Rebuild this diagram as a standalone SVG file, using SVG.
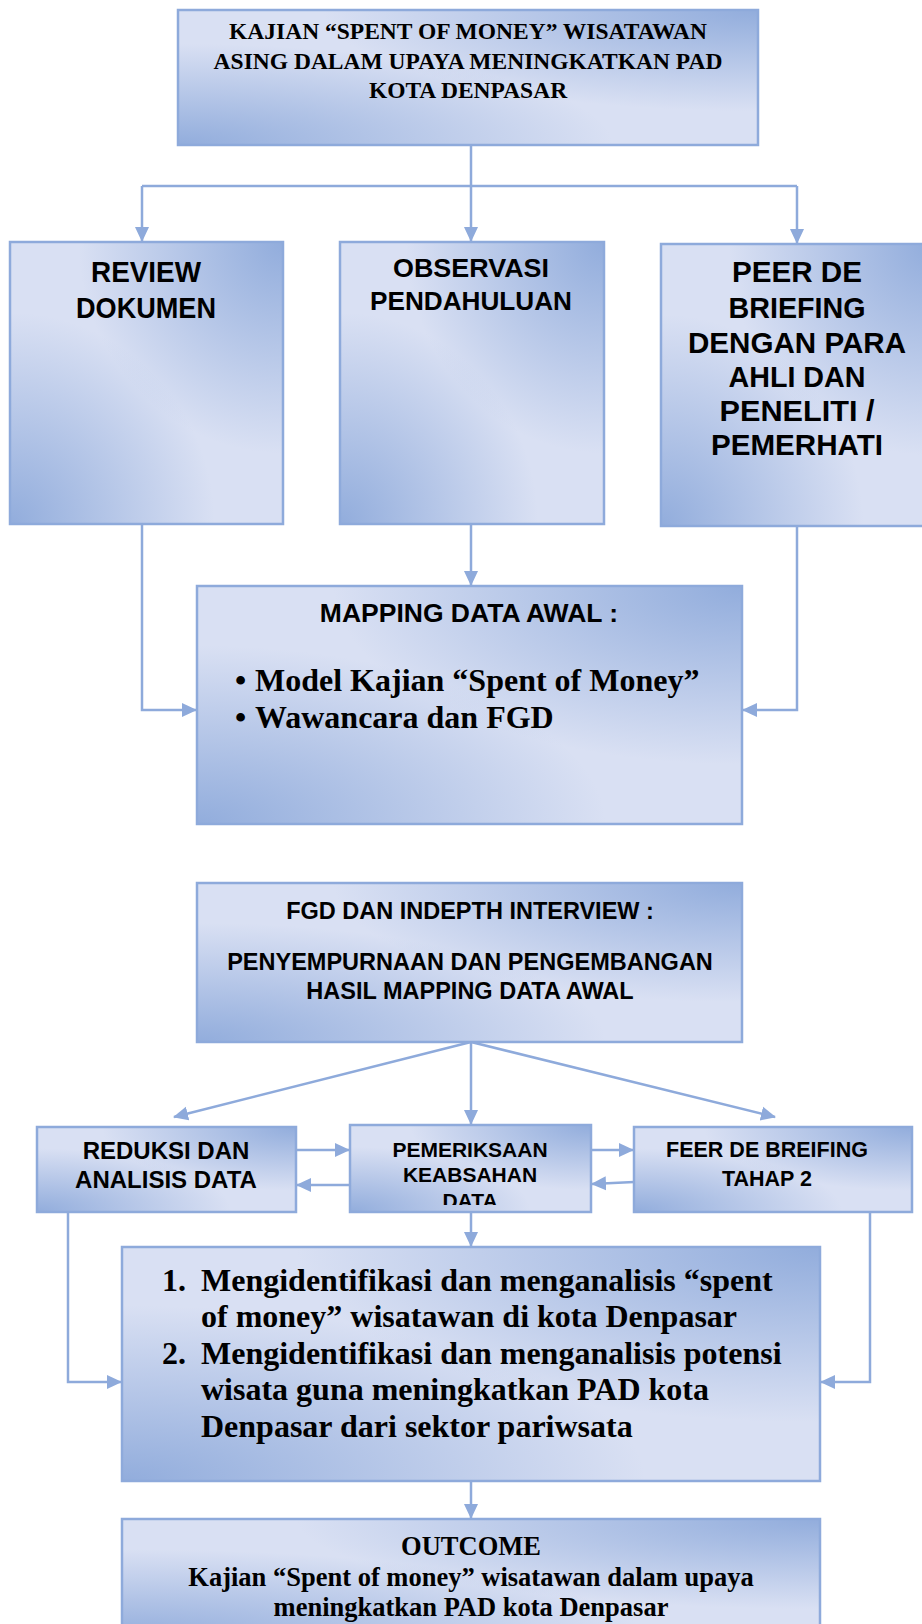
<svg xmlns="http://www.w3.org/2000/svg" width="922" height="1624" viewBox="0 0 922 1624">
<defs>
<radialGradient id="tr" cx="1" cy="0" r="0.75" fx="1" fy="0"><stop offset="0" stop-color="#8eaadb" stop-opacity="0.95"/><stop offset="1" stop-color="#8eaadb" stop-opacity="0"/></radialGradient>
<radialGradient id="bl" cx="0" cy="1" r="0.75" fx="0" fy="1"><stop offset="0" stop-color="#8eaadb" stop-opacity="0.95"/><stop offset="1" stop-color="#8eaadb" stop-opacity="0"/></radialGradient>
<marker id="ah" markerWidth="16" markerHeight="16" refX="14" refY="8" orient="auto" markerUnits="userSpaceOnUse"><path d="M0,1 L15,8 L0,15 z" fill="#8eaadb"/></marker>
<clipPath id="cpem"><rect x="350" y="1125" width="241" height="80"/></clipPath>
</defs>
<style>
.base{fill:#d9e0f3}
.t{fill:url(#tr)}
.b{fill:url(#bl)}
.bd{fill:none;stroke:#8eaadb;stroke-width:2.5}
.c{fill:none;stroke:#8eaadb;stroke-width:2.5}
.ca{fill:none;stroke:#8eaadb;stroke-width:2.5;marker-end:url(#ah)}
.tt{font-family:"Liberation Serif","Times New Roman",serif;font-weight:bold;fill:#000}
.ar{font-family:"Liberation Sans",Arial,sans-serif;font-weight:bold;fill:#000}
</style>
<rect width="922" height="1624" fill="#fff"/>

<g id="connectors">
<path class="c" d="M471,145 V186 M142,186 H797"/>
<path class="ca" d="M142,186 V241"/>
<path class="ca" d="M471,186 V241"/>
<path class="ca" d="M797,186 V243"/>
<path class="ca" d="M142,524 V710 H196"/>
<path class="ca" d="M471,524 V585"/>
<path class="ca" d="M797,526 V710 H743"/>
<path class="ca" d="M471,1042 L174,1117"/>
<path class="ca" d="M471,1042 V1124"/>
<path class="ca" d="M471,1042 L775,1117"/>
<path class="ca" d="M296,1150 H349"/>
<path class="ca" d="M350,1185 H297"/>
<path class="ca" d="M591,1150 H633"/>
<path class="ca" d="M634,1182 L592,1184"/>
<path class="ca" d="M68,1212 V1382 H121"/>
<path class="ca" d="M870,1212 V1382 H821"/>
<path class="ca" d="M471,1212 V1246"/>
<path class="ca" d="M471,1481 V1518"/>
</g>

<g id="n-top">
<rect class="base" x="178" y="10" width="580" height="135"/><rect class="t" x="178" y="10" width="580" height="135"/><rect class="b" x="178" y="10" width="580" height="135"/><rect class="bd" x="178" y="10" width="580" height="135"/>
<text class="tt" font-size="23.5" text-anchor="middle"><tspan x="468" y="39">KAJIAN “SPENT OF MONEY” WISATAWAN</tspan><tspan x="468" y="69">ASING DALAM UPAYA MENINGKATKAN PAD</tspan><tspan x="468" y="98">KOTA DENPASAR</tspan></text>
</g>

<g id="n-review">
<rect class="base" x="10" y="242" width="273" height="282"/><rect class="t" x="10" y="242" width="273" height="282"/><rect class="b" x="10" y="242" width="273" height="282"/><rect class="bd" x="10" y="242" width="273" height="282"/>
<text class="ar" font-size="30" text-anchor="middle"><tspan x="146" y="282" textLength="110" lengthAdjust="spacingAndGlyphs">REVIEW</tspan><tspan x="146" y="318" textLength="140" lengthAdjust="spacingAndGlyphs">DOKUMEN</tspan></text>
</g>

<g id="n-observasi">
<rect class="base" x="340" y="242" width="264" height="282"/><rect class="t" x="340" y="242" width="264" height="282"/><rect class="b" x="340" y="242" width="264" height="282"/><rect class="bd" x="340" y="242" width="264" height="282"/>
<text class="ar" font-size="26" text-anchor="middle"><tspan x="471" y="277" textLength="156" lengthAdjust="spacingAndGlyphs">OBSERVASI</tspan><tspan x="471" y="310" textLength="202" lengthAdjust="spacingAndGlyphs">PENDAHULUAN</tspan></text>
</g>

<g id="n-peer">
<rect class="base" x="661" y="244" width="270" height="282"/><rect class="t" x="661" y="244" width="270" height="282"/><rect class="b" x="661" y="244" width="270" height="282"/><rect class="bd" x="661" y="244" width="270" height="282"/>
<text class="ar" font-size="30" text-anchor="middle"><tspan x="797" y="282" textLength="130" lengthAdjust="spacingAndGlyphs">PEER DE</tspan><tspan x="797" y="318" textLength="137" lengthAdjust="spacingAndGlyphs">BRIEFING</tspan><tspan x="797" y="353" textLength="218" lengthAdjust="spacingAndGlyphs">DENGAN PARA</tspan><tspan x="797" y="387" textLength="137" lengthAdjust="spacingAndGlyphs">AHLI DAN</tspan><tspan x="797" y="421" textLength="155" lengthAdjust="spacingAndGlyphs">PENELITI /</tspan><tspan x="797" y="455" textLength="172" lengthAdjust="spacingAndGlyphs">PEMERHATI</tspan></text>
</g>

<g id="n-mapping">
<rect class="base" x="197" y="586" width="545" height="238"/><rect class="t" x="197" y="586" width="545" height="238"/><rect class="b" x="197" y="586" width="545" height="238"/><rect class="bd" x="197" y="586" width="545" height="238"/>
<text class="ar" font-size="26.5" text-anchor="middle" x="469" y="622">MAPPING DATA AWAL :</text>
<text class="tt" font-size="32"><tspan x="235" y="691">•</tspan><tspan x="255" y="691">Model Kajian “Spent of Money”</tspan><tspan x="235" y="728">•</tspan><tspan x="255" y="728">Wawancara dan FGD</tspan></text>
</g>

<g id="n-fgd">
<rect class="base" x="197" y="883" width="545" height="159"/><rect class="t" x="197" y="883" width="545" height="159"/><rect class="b" x="197" y="883" width="545" height="159"/><rect class="bd" x="197" y="883" width="545" height="159"/>
<text class="ar" font-size="23.5" text-anchor="middle"><tspan x="470" y="919">FGD DAN INDEPTH INTERVIEW :</tspan><tspan x="470" y="970">PENYEMPURNAAN DAN PENGEMBANGAN</tspan><tspan x="470" y="999">HASIL MAPPING DATA AWAL</tspan></text>
</g>

<g id="n-reduksi">
<rect class="base" x="37" y="1127" width="259" height="85"/><rect class="t" x="37" y="1127" width="259" height="85"/><rect class="b" x="37" y="1127" width="259" height="85"/><rect class="bd" x="37" y="1127" width="259" height="85"/>
<text class="ar" font-size="24" text-anchor="middle"><tspan x="166" y="1159">REDUKSI DAN</tspan><tspan x="166" y="1188">ANALISIS DATA</tspan></text>
</g>

<g id="n-pemeriksaan">
<rect class="base" x="350" y="1125" width="241" height="87"/><rect class="t" x="350" y="1125" width="241" height="87"/><rect class="b" x="350" y="1125" width="241" height="87"/><rect class="bd" x="350" y="1125" width="241" height="87"/>
<text class="ar" font-size="21" text-anchor="middle" clip-path="url(#cpem)"><tspan x="470" y="1157">PEMERIKSAAN</tspan><tspan x="470" y="1182">KEABSAHAN</tspan><tspan x="470" y="1208">DATA</tspan></text>
</g>

<g id="n-feer">
<rect class="base" x="634" y="1127" width="278" height="85"/><rect class="t" x="634" y="1127" width="278" height="85"/><rect class="b" x="634" y="1127" width="278" height="85"/><rect class="bd" x="634" y="1127" width="278" height="85"/>
<text class="ar" font-size="21.5" text-anchor="middle"><tspan x="767" y="1157">FEER DE BREIFING</tspan><tspan x="767" y="1186">TAHAP 2</tspan></text>
</g>

<g id="n-tujuan">
<rect class="base" x="122" y="1247" width="698" height="234"/><rect class="t" x="122" y="1247" width="698" height="234"/><rect class="b" x="122" y="1247" width="698" height="234"/><rect class="bd" x="122" y="1247" width="698" height="234"/>
<text class="tt" font-size="32"><tspan x="162" y="1291">1.</tspan><tspan x="201" y="1291">Mengidentifikasi dan menganalisis “spent</tspan><tspan x="201" y="1327">of money” wisatawan di kota Denpasar</tspan><tspan x="162" y="1364">2.</tspan><tspan x="201" y="1364">Mengidentifikasi dan menganalisis potensi</tspan><tspan x="201" y="1400">wisata guna meningkatkan PAD kota</tspan><tspan x="201" y="1437">Denpasar dari sektor pariwsata</tspan></text>
</g>

<g id="n-outcome">
<rect class="base" x="122" y="1519" width="698" height="120"/><rect class="t" x="122" y="1519" width="698" height="120"/><rect class="b" x="122" y="1519" width="698" height="120"/><rect class="bd" x="122" y="1519" width="698" height="120"/>
<text class="tt" font-size="26.5" text-anchor="middle"><tspan x="471" y="1555">OUTCOME</tspan><tspan x="471" y="1586">Kajian “Spent of money” wisatawan dalam upaya</tspan><tspan x="471" y="1616">meningkatkan PAD kota Denpasar</tspan></text>
</g>
</svg>
